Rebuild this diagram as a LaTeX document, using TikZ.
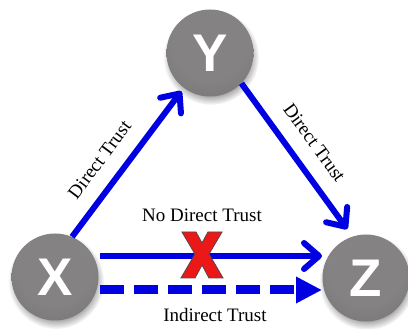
\documentclass[tikz,border=0pt]{standalone}
\usepackage{fontspec}
\setmainfont{Liberation Serif}
\newfontfamily\ballfont{Liberation Sans}
\usetikzlibrary{arrows.meta,calc,fadings}

\definecolor{trustblue}{RGB}{0,0,225}
\definecolor{crossred}{RGB}{236,24,24}
\definecolor{crossedge}{RGB}{95,70,70}
\definecolor{sphA}{RGB}{132,130,130}
\definecolor{sphB}{RGB}{112,110,110}
\definecolor{sphC}{RGB}{84,82,82}

% soft grey sphere, lit from slightly above the centre
\pgfdeclareradialshading{graysphere}{\pgfpoint{0bp}{10bp}}{%
  color(0bp)=(sphA); color(22bp)=(sphA); color(44bp)=(sphB); color(60bp)=(sphC)}

\tikzset{
  sphere/.style={circle, minimum size=87pt, inner sep=0pt, shading=graysphere,
    text=white, font=\ballfont\bfseries\fontsize{53}{53}\selectfont},
  sphereshadow/.style={fill=black, opacity=0.35,
    path fading=circle with fuzzy edge 20 percent},
  trust/.style={draw=trustblue, line width=6pt,
    -{Straight Barb[length=15pt,width=26pt,round]}},
  indirect/.style={draw=trustblue, line width=9pt, dash pattern=on 24pt off 10pt,
    -{Triangle[length=26pt,width=25pt]}},
  lbl/.style={font=\fontsize{19}{19}\selectfont, inner sep=2pt},
  crossmark/.style={fill=crossred, draw=crossedge, line width=0.9pt, line join=miter}
}

\begin{document}
\begin{tikzpicture}[x=1pt,y=-1pt]
  \useasboundingbox (0,0) rectangle (408,329);

  \coordinate (pX) at (55,277);
  \coordinate (pY) at (210,53);
  \coordinate (pZ) at (366,278);

  % shadows under the spheres
  \foreach \p in {pX,pY,pZ}
    \fill[sphereshadow] ($(\p)+(1,4)$) circle (48);

  \node[sphere] (X) at (pX) {X};
  \node[sphere] (Y) at (pY) {Y};
  \node[sphere] (Z) at (pZ) {Z};

  % direct trust edges
  \draw[trust, shorten >=4pt] (X.67) -- (Y)
    node[lbl, sloped, above=13pt, pos=0.42] (lxy) {Direct Trust};
  \draw[trust, shorten >=9pt] (Y.-44) -- (Z.108)
    node[lbl, sloped, above=13pt, pos=0.48] (lyz) {Direct Trust};

  % missing direct trust from X to Z
  \draw[trust] ($(X.center)+(45,-21)$) -- ($(Z.center)+(-44,-22)$);
  \node[lbl] (lnd) at (202,215) {No Direct Trust};

  % red cross over the missing edge
  \draw[crossmark, shift={(202,255)}]
    (-20,-23) -- (-6,-23) -- (0,-12) -- (6,-23) -- (20,-23) -- (7,-1)
    -- (21,23) -- (7,23) -- (0,10) -- (-7,23) -- (-21,23) -- (-7,-1) -- cycle;

  % indirect trust through Y
  \draw[indirect] ($(X.center)+(45,13)$) -- ($(Z.center)+(-44,12)$);
  \node[lbl] (lind) at (215,315) {Indirect Trust};
\end{tikzpicture}
\end{document}
